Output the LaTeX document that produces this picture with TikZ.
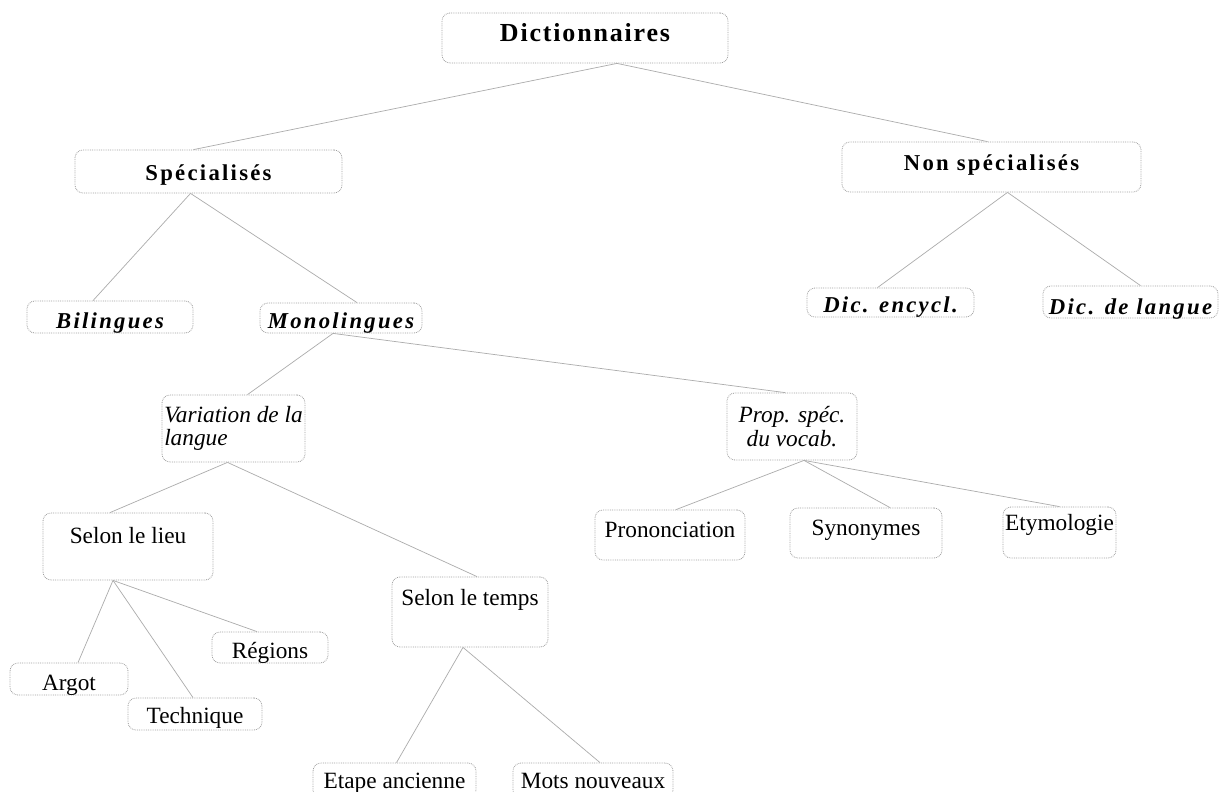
\documentclass[tikz,border=0pt]{standalone}
\usepackage{fontspec}
\setmainfont{Liberation Serif}
\newfontfamily\dictfont[LetterSpace=7]{Liberation Serif}
\newfontfamily\spacedfont[LetterSpace=10]{Liberation Serif}
\usepackage{tikz}
\usetikzlibrary{positioning,calc}

\begin{document}
\begin{tikzpicture}[x=1pt,y=-1pt,
  box/.style={draw=gray!75,densely dotted,line width=0.8pt,rounded corners=8pt,inner sep=1pt},
  lien/.style={draw=gray!65,line width=0.7pt},
  titre/.style={font=\dictfont\bfseries\fontsize{26}{30}\selectfont},
  gras/.style={font=\spacedfont\bfseries\fontsize{22.7}{26}\selectfont},
  grasit/.style={font=\spacedfont\bfseries\itshape\fontsize{22.7}{26}\selectfont},
  norm/.style={font=\fontsize{23.3}{23.5}\selectfont},
  ital/.style={font=\itshape\fontsize{23.3}{23.5}\selectfont}]
  \useasboundingbox (0,0) rectangle (1219,792);
  \fill[white] (0,0) rectangle (1219,792);
  % Top levels
  \path (585,38) node[box,titre,minimum width=286pt,minimum height=50pt,text height=18pt,text depth=10pt] (Dic) {Dictionnaires};
  \path (208.5,171.5) node[box,gras,minimum width=267pt,minimum height=43pt,text height=17pt,text depth=0pt] (Spec) {Spécialisés};
  \path (991.5,167) node[box,gras,minimum width=299pt,minimum height=50pt,text height=16pt,text depth=10pt] (NonSpec) {Non spécialisés};
  \path (110,317) node[box,grasit,minimum width=166pt,minimum height=32pt,text height=22pt,text depth=0pt] (Bil) {Bilingues};
  \path (341,318) node[box,grasit,minimum width=162pt,minimum height=30pt,text height=20pt,text depth=0pt] (Mono) {Monolingues};
  \path (890.5,302.5) node[box,grasit,minimum width=167pt,minimum height=29pt,text height=19pt,text depth=0pt] (Encycl) {Dic. encycl.};
  \path (1130.5,302) node[box,grasit,minimum width=175pt,minimum height=32pt,text height=24pt,text depth=0pt] (Langue) {Dic. de langue};
  % Monolingues
  \path (233.5,428.5) node[box,ital,minimum width=143pt,minimum height=67pt,align=left,inner sep=0pt] (Var) {Variation de la\\langue};
  \path (792,426.5) node[box,ital,minimum width=130pt,minimum height=67pt,align=center] (Prop) {Prop. spéc.\\du vocab.};
  \path (128,546.5) node[box,norm,minimum width=170pt,minimum height=67pt,text height=16pt,text depth=23pt] (Lieu) {Selon le lieu};
  \path (470,612) node[box,norm,minimum width=156pt,minimum height=70pt,text height=16pt,text depth=30pt] (Temps) {Selon le temps};
  \path (670,535) node[box,norm,minimum width=150pt,minimum height=50pt,text height=16pt,text depth=12pt] (Pron) {Prononciation};
  \path (866,533) node[box,norm,minimum width=152pt,minimum height=50pt,text height=16pt,text depth=12pt] (Syn) {Synonymes};
  \path (1059.5,532.5) node[box,norm,minimum width=113pt,minimum height=51pt,text height=16pt,text depth=21pt] (Etym) {Etymologie};
  % Leaves
  \path (270,647.5) node[box,norm,minimum width=116pt,minimum height=31pt,text height=21pt,text depth=0pt] (Reg) {Régions};
  \path (69,679) node[box,norm,minimum width=118pt,minimum height=32pt,text height=22pt,text depth=0pt] (Argot) {Argot};
  \path (195,714) node[box,norm,minimum width=134pt,minimum height=32pt,text height=18pt,text depth=0pt] (Tech) {Technique};
  \path (394.5,780.5) node[box,norm,minimum width=163pt,minimum height=35pt,text height=15pt,text depth=0pt] (Etape) {Etape ancienne};
  \path (593,780.5) node[box,norm,minimum width=160pt,minimum height=35pt,text height=15pt,text depth=0pt] (Mots) {Mots nouveaux};
  % Draw the links
  \draw[lien] ([xshift=32pt]Dic.south) -- ([xshift=-15pt]Spec.north);
  \draw[lien] ([xshift=32pt]Dic.south) -- ([xshift=-4pt]NonSpec.north);
  \draw[lien] ([xshift=-18pt]Spec.south) -- ([xshift=-17pt]Bil.north);
  \draw[lien] ([xshift=-18pt]Spec.south) -- ([xshift=16pt]Mono.north);
  \draw[lien] ([xshift=16pt]NonSpec.south) -- ([xshift=-13pt]Encycl.north);
  \draw[lien] ([xshift=16pt]NonSpec.south) -- ([xshift=10pt]Langue.north);
  \draw[lien] ([xshift=-8pt]Mono.south) -- ([xshift=14pt]Var.north);
  \draw[lien] ([xshift=-8pt]Mono.south) -- ([xshift=-7pt]Prop.north);
  \draw[lien] ([xshift=-6pt]Var.south) -- ([xshift=-18pt]Lieu.north);
  \draw[lien] ([xshift=-6pt]Var.south) -- ([xshift=7pt]Temps.north);
  \draw[lien] ([xshift=-15pt]Lieu.south) -- ([xshift=9pt]Argot.north);
  \draw[lien] ([xshift=-15pt]Lieu.south) -- ([xshift=-2pt]Tech.north);
  \draw[lien] ([xshift=-15pt]Lieu.south) -- ([xshift=-13pt]Reg.north);
  \draw[lien] ([xshift=-7pt]Temps.south) -- ([xshift=2pt]Etape.north);
  \draw[lien] ([xshift=-7pt]Temps.south) -- ([xshift=7pt]Mots.north);
  \draw[lien] ([xshift=12pt]Prop.south) -- ([xshift=6pt]Pron.north);
  \draw[lien] ([xshift=12pt]Prop.south) -- ([xshift=24pt]Syn.north);
  \draw[lien] ([xshift=12pt]Prop.south) -- (Etym.north);
\end{tikzpicture}
\end{document}
